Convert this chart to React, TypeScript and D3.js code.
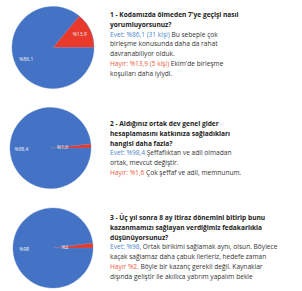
import * as d3 from 'd3';

// Slice order: Evet (blue), Hayır (red)
const categories = ['Evet', 'Hayır'];
const survey1 = [86.1, 13.9];
const survey2 = [98.4, 1.6];
const survey3 = [98, 2];
const sliceLabels1 = ['%86,1', '%13,9'];
const sliceLabels2 = ['%98,4', '%1,6'];
const sliceLabels3 = ['%98', '%2'];

// text kinds: q = question, a = Evet answer, b = Hayır answer, n = normal
type Seg = [string, string];
const text1: Seg[][] = [
  [['q', "1 - Kodamızda ölmeden 7'ye geçişi nasıl"]],
  [['q', 'yorumluyorsunuz?']],
  [['a', 'Evet: %86,1 (31 kişi)'], ['n', ' Bu sebeple çok']],
  [['n', 'birleşme konusunda daha da rahat']],
  [['n', 'davranabiliyor olduk.']],
  [['b', 'Hayır: %13,9 (5 kişi)'], ['n', " Ekim'de birleşme"]],
  [['n', 'koşulları daha iyiydi.']],
];
const text2: Seg[][] = [
  [['q', '2 - Aldığınız ortak dev genel gider']],
  [['q', 'hesaplamasını katkınıza sağladıkları']],
  [['q', 'hangisi daha fazla?']],
  [['a', 'Evet: %98,4'], ['n', ' Şeffaflıktan ve adil olmadan']],
  [['n', 'ortak, mevcut değiştir.']],
  [['b', 'Hayır: %1,6'], ['n', ' Çok şeffaf ve adil, memnunum.']],
];
const text3: Seg[][] = [
  [['q', '3 - Üç yıl sonra 8 ay itiraz dönemini bitirip bunu']],
  [['q', 'kazanmamızı sağlayan verdiğimiz fedakarlıkla']],
  [['q', 'düşünüyorsunuz?']],
  [['a', 'Evet: %98,'], ['n', ' Ortak birikimi sağlamak aynı, olsun. Böylece']],
  [['n', 'kaçak sağlamaz daha çabuk ilerleriz, hedefe zaman']],
  [['b', 'Hayır %2,'], ['n', ' Böyle bir kazanç gerekli değil. Kaynaklar']],
  [['n', 'dışında geliştir ile akıllıca yatırım yapalım bekle']],
];

const blocks = [
  { values: survey1, labels: sliceLabels1, lines: text1 },
  { values: survey2, labels: sliceLabels2, lines: text2 },
  { values: survey3, labels: sliceLabels3, lines: text3 },
];

const colors = d3.scaleOrdinal<string, string>().domain(categories).range(['#4472c4', '#e8392a']);
const textColor: Record<string, string> = { q: '#222', a: '#4a86cc', b: '#ec5a43', n: '#333' };

// layout
const pieCenters = [
  { x: 53, y: 47.5, r: 41 },
  { x: 50.5, y: 148, r: 40.5 },
  { x: 53, y: 248, r: 40 },
];
const textTops = [15, 124, 218];
const lineH = 9.8;
const textX = 110;

function Pie({ values, labels, cx, cy, r }: { values: number[]; labels: string[]; cx: number; cy: number; r: number }) {
  const pie = d3
    .pie<number>()
    .sort(null)
    .startAngle(Math.PI / 2)
    .endAngle(Math.PI / 2 + 2 * Math.PI);
  const arcs = pie(values);
  const arc = d3.arc<d3.PieArcDatum<number>>().innerRadius(0).outerRadius(r);
  const total = d3.sum(values);
  return (
    <g transform={`translate(${cx},${cy})`}>
      {arcs.map((a, i) => (
        <path key={i} d={arc(a) ?? ''} fill={colors(categories[i])} stroke="#5a84cc" strokeWidth={0.4} />
      ))}
      {arcs.map((a, i) => {
        // small slices get their label pulled in toward the centre
        const lr = a.value / total < 0.05 ? r * 0.3 : r * 0.72;
        const [lx, ly] = d3.arc<d3.PieArcDatum<number>>().innerRadius(lr).outerRadius(lr).centroid(a);
        return (
          <text
            key={'l' + i}
            x={lx}
            y={ly}
            fontSize={5}
            fill="#f2f2f2"
            textAnchor="middle"
            dominantBaseline="middle"
          >
            {labels[i]}
          </text>
        );
      })}
    </g>
  );
}

export default function App() {
  return (
    <div style={{ position: 'absolute', left: 0, top: 0 }}>
      <svg width={302} height={291} style={{ display: 'block', background: '#fff' }} fontFamily="'Open Sans', sans-serif">
        {blocks.map((b, bi) => (
          <g key={bi}>
            <Pie
              values={b.values}
              labels={b.labels}
              cx={pieCenters[bi].x}
              cy={pieCenters[bi].y}
              r={pieCenters[bi].r}
            />
            {b.lines.map((line, li) => (
              <text key={li} x={textX} y={textTops[bi] + li * lineH} fontSize={6.6} dominantBaseline="middle">
                {line.map(([kind, s], si) => (
                  <tspan key={si} fill={textColor[kind]} fontWeight={kind === 'q' ? 700 : 400}>
                    {s}
                  </tspan>
                ))}
              </text>
            ))}
          </g>
        ))}
      </svg>
    </div>
  );
}
